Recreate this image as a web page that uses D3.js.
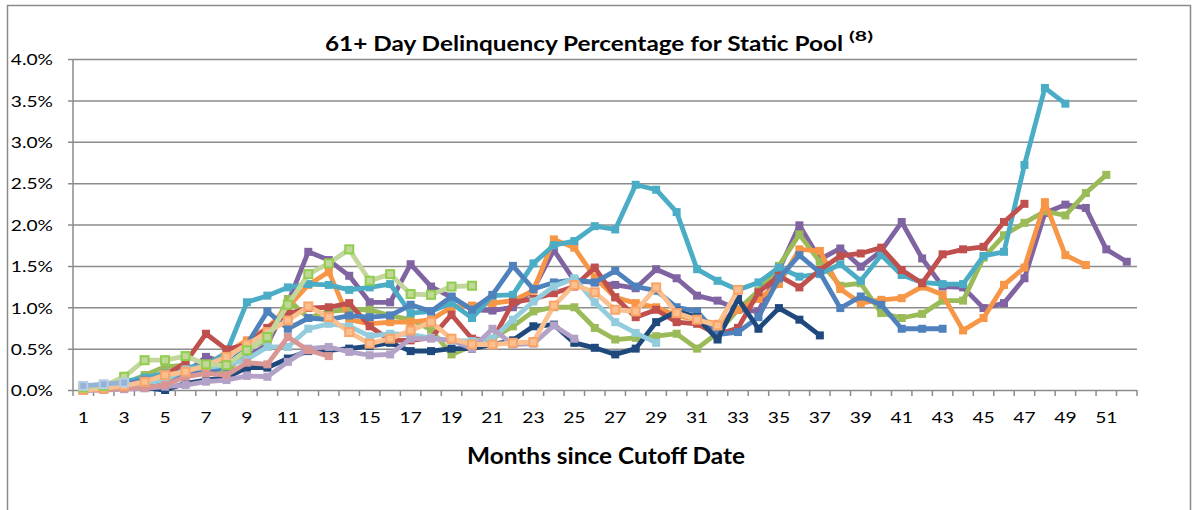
<!DOCTYPE html>
<html>
<head>
<meta charset="utf-8">
<script src="https://cdn.jsdelivr.net/npm/d3@7"></script>
<style>
  html, body { margin: 0; padding: 0; background: #fff; }
  svg { display: block; }
  text { font-family: Lato, "Open Sans", sans-serif; fill: #000; }
</style>
</head>
<body>
<script>
// ---------- DATA ----------
const months = [1,2,3,4,5,6,7,8,9,10,11,12,13,14,15,16,17,18,19,20,21,22,23,24,25,26,
  27,28,29,30,31,32,33,34,35,36,37,38,39,40,41,42,43,44,45,46,47,48,49,50,51,52];
const xTickLabels = [1,3,5,7,9,11,13,15,17,19,21,23,25,27,29,31,33,35,37,39,41,43,45,47,49,51];
const yTicks = [0,0.5,1.0,1.5,2.0,2.5,3.0,3.5,4.0];

const purplePool = [0.0,0.02,0.04,0.07,0.12,0.2,0.4,0.33,0.4,0.55,1.05,1.67,1.57,1.38,1.06,1.06,1.52,1.25,1.12,0.97,
  0.96,1.0,1.22,1.69,1.32,1.3,1.27,1.23,1.46,1.35,1.14,1.08,0.97,0.95,1.45,1.99,1.58,1.71,1.49,1.68,
  2.03,1.59,1.25,1.24,0.99,1.05,1.35,2.14,2.24,2.2,1.7,1.55];
const greenPool = [0.0,0.03,0.08,0.18,0.28,0.3,0.2,0.2,0.5,0.6,1.1,0.87,0.95,0.97,0.97,0.9,0.85,0.73,0.43,0.53,
  0.62,0.77,0.95,1.0,1.0,0.75,0.61,0.63,0.65,0.68,0.5,0.69,0.97,1.2,1.5,1.88,1.55,1.26,1.29,0.93,
  0.87,0.92,1.08,1.08,1.6,1.87,2.02,2.16,2.11,2.38,2.6];
const orangePool = [0.0,0.02,0.05,0.1,0.2,0.25,0.3,0.45,0.6,0.75,1.0,1.27,1.43,0.85,0.8,0.82,0.82,0.85,1.0,1.02,
  1.05,1.08,1.2,1.82,1.72,1.36,1.12,1.05,1.0,0.9,0.85,0.8,0.97,1.1,1.28,1.7,1.68,1.22,1.05,1.09,
  1.11,1.25,1.15,0.72,0.87,1.27,1.48,2.27,1.63,1.51];
const aquaPool = [0.03,0.05,0.1,0.15,0.2,0.27,0.3,0.45,1.06,1.14,1.24,1.28,1.27,1.21,1.24,1.28,0.93,0.95,1.05,0.87,
  1.14,1.15,1.53,1.75,1.8,1.98,1.94,2.48,2.42,2.15,1.46,1.32,1.21,1.3,1.48,1.37,1.4,1.52,1.32,1.63,
  1.39,1.3,1.28,1.28,1.62,1.67,2.72,3.65,3.46];
const redPool = [0.0,0.02,0.05,0.1,0.18,0.33,0.68,0.49,0.55,0.75,0.92,0.99,1.0,1.05,0.77,0.6,0.6,0.63,0.91,0.62,
  0.6,1.06,1.1,1.17,1.25,1.48,1.12,0.88,0.97,0.82,0.8,0.67,0.75,1.18,1.38,1.24,1.45,1.62,1.65,1.72,
  1.45,1.29,1.64,1.7,1.73,2.03,2.25];
const bluePool = [0.0,0.03,0.07,0.12,0.15,0.2,0.22,0.28,0.55,0.95,0.74,0.87,0.85,0.9,0.88,0.9,1.03,0.95,1.13,0.97,
  1.15,1.5,1.22,1.3,1.33,1.3,1.44,1.25,1.2,1.0,0.95,0.67,0.7,0.88,1.35,1.63,1.42,0.99,1.13,1.03,
  0.74,0.74,0.74];
const navyPool = [0.0,0.01,0.02,0.03,0.0,0.08,0.12,0.15,0.27,0.27,0.38,0.47,0.48,0.5,0.53,0.57,0.47,0.47,0.5,0.5,
  0.55,0.6,0.77,0.79,0.57,0.51,0.43,0.5,0.82,0.95,0.88,0.61,1.1,0.74,0.99,0.85,0.66];
const lightBluePool = [0.0,0.02,0.05,0.08,0.12,0.25,0.27,0.3,0.37,0.52,0.52,0.74,0.8,0.77,0.65,0.68,0.67,0.63,0.6,0.59,
  0.62,0.85,1.07,1.25,1.35,1.06,0.82,0.69,0.57];
const lightPurplePool = [0.0,0.0,0.01,0.02,0.04,0.06,0.1,0.12,0.17,0.16,0.34,0.5,0.52,0.46,0.42,0.43,0.62,0.62,0.6,0.5,
  0.74,0.55,0.56,0.78,0.62];
const pinkPool = [0.0,0.0,0.02,0.03,0.06,0.16,0.2,0.18,0.33,0.31,0.64,0.48,0.41];
const lightOrangePool = [0.0,0.02,0.05,0.1,0.18,0.22,0.3,0.4,0.55,0.7,0.84,1.01,0.88,0.7,0.56,0.62,0.72,0.82,0.62,0.55,
  0.55,0.57,0.58,1.02,1.27,1.18,0.97,0.95,1.24,0.93,0.85,0.78,1.21];
const lightGreenPool = [0.03,0.05,0.16,0.36,0.36,0.41,0.31,0.3,0.48,0.64,1.03,1.4,1.53,1.7,1.32,1.4,1.16,1.15,1.25,1.26];
const steelBluePool = [0.05,0.07,0.09];

// series table (drawing order: later on top)
const series = [
  { values: purplePool,      line: "#8064A2", fill: "#8064A2", stroke: "#8064A2" },
  { values: greenPool,       line: "#9BBB59", fill: "#9BBB59", stroke: "#9BBB59" },
  { values: orangePool,      line: "#F79646", fill: "#F79646", stroke: "#F79646" },
  { values: aquaPool,        line: "#4BACC6", fill: "#4BACC6", stroke: "#4BACC6" },
  { values: redPool,         line: "#C0504D", fill: "#C0504D", stroke: "#C0504D" },
  { values: bluePool,        line: "#4F81BD", fill: "#4F81BD", stroke: "#4F81BD" },
  { values: navyPool,        line: "#1F497D", fill: "#1F497D", stroke: "#1F497D" },
  { values: lightBluePool,   line: "#93CDDD", fill: "#93CDDD", stroke: "#93CDDD" },
  { values: lightPurplePool, line: "#B3A2C7", fill: "#B3A2C7", stroke: "#B3A2C7" },
  { values: pinkPool,        line: "#D99694", fill: "#D99694", stroke: "#D99694" },
  { values: lightOrangePool, line: "#FAC090", fill: "#FAC090", stroke: "#F8A46A" },
  { values: lightGreenPool,  line: "#C3D69B", fill: "#C3D69B", stroke: "#8ECF4C" },
  { values: steelBluePool,   line: "#95B3D7", fill: "#95B3D7", stroke: "#B9CDE5" }
];

// ---------- LAYOUT ----------
const W = 1199, H = 510;
const plot = { left: 73, right: 1137, top: 59, bottom: 390 };
const textStretch = 1.2; // reference text is horizontally wide

const svg = d3.select("body").append("svg").attr("width", W).attr("height", H);

function stretch(sel, factor) {
  sel.each(function () {
    const len = this.getComputedTextLength();
    d3.select(this).attr("textLength", len * factor).attr("lengthAdjust", "spacingAndGlyphs");
  });
}

// outer chart border
svg.append("rect")
  .attr("x", 7.5).attr("y", 5.5)
  .attr("width", 1183).attr("height", 530)
  .attr("fill", "#fff").attr("stroke", "#8a8a8a").attr("stroke-width", 1.5);

const x = d3.scaleBand().domain(months).range([plot.left, plot.right]);
const y = d3.scaleLinear().domain([0, 4]).range([plot.bottom, plot.top]);
const cx = m => x(m) + x.bandwidth() / 2;

// gridlines + y axis labels
const yAxis = d3.axisLeft(y)
  .tickValues(yTicks)
  .tickSizeInner(-(plot.right - plot.left))
  .tickSizeOuter(0)
  .tickFormat(d => d.toFixed(1) + "%");
const gy = svg.append("g").attr("transform", `translate(${plot.left},0)`).call(yAxis);
gy.select(".domain").remove();
gy.selectAll(".tick line").attr("x1", -5).attr("stroke", "#8c8c8c").attr("stroke-width", 1.5);
gy.selectAll(".tick text")
  .attr("x", 53 - plot.left)
  .attr("dy", "0.36em")
  .attr("text-anchor", "end")
  .style("font-size", "16px")
  .style("font-family", "Lato, sans-serif")
  .attr("fill", "#000")
  .call(stretch, textStretch);

// y axis line
svg.append("line")
  .attr("x1", plot.left).attr("x2", plot.left)
  .attr("y1", plot.top).attr("y2", plot.bottom + 0.5)
  .attr("stroke", "#8c8c8c").attr("stroke-width", 1.5);

// x axis ticks at category boundaries
const boundaries = months.map(m => x(m)).concat([x(months[months.length - 1]) + x.bandwidth()]);
svg.append("g").selectAll("line").data(boundaries).join("line")
  .attr("x1", d => d).attr("x2", d => d)
  .attr("y1", plot.bottom).attr("y2", plot.bottom + 6)
  .attr("stroke", "#8c8c8c").attr("stroke-width", 1.5);

// x axis labels (odd months)
const xAxis = d3.axisBottom(x).tickValues(xTickLabels).tickSize(0).tickPadding(22);
const gx = svg.append("g").attr("transform", `translate(0,${plot.bottom})`).call(xAxis);
gx.select(".domain").remove();
gx.selectAll(".tick text")
  .style("font-size", "16px")
  .style("font-family", "Lato, sans-serif")
  .attr("fill", "#000")
  .call(stretch, textStretch);

// ---------- SERIES ----------
const line = d3.line()
  .x((d, i) => cx(months[i]))
  .y(d => y(d));

const gs = svg.append("g");
series.forEach(s => {
  const g = gs.append("g");
  g.append("path")
    .datum(s.values)
    .attr("d", line)
    .attr("fill", "none")
    .attr("stroke", s.line)
    .attr("stroke-width", 4.8)
    .attr("stroke-linejoin", "round");
  const ms = 8;
  g.selectAll("rect").data(s.values).join("rect")
    .attr("x", (d, i) => cx(months[i]) - ms / 2)
    .attr("y", d => y(d) - ms / 2)
    .attr("width", ms).attr("height", ms)
    .attr("fill", s.fill)
    .attr("stroke", s.stroke)
    .attr("stroke-width", s.stroke === s.fill ? 0 : 2);
});

// ---------- TITLES ----------
svg.append("text")
  .attr("x", 325).attr("y", 51)
  .attr("textLength", 518).attr("lengthAdjust", "spacingAndGlyphs")
  .style("font-size", "21px").style("font-weight", "bold")
  .text("61+ Day Delinquency Percentage for Static Pool");
svg.append("text")
  .attr("x", 849).attr("y", 41)
  .attr("textLength", 24).attr("lengthAdjust", "spacingAndGlyphs")
  .style("font-size", "13px").style("font-weight", "bold")
  .text("(8)");

svg.append("text")
  .attr("x", 467).attr("y", 464)
  .attr("textLength", 278).attr("lengthAdjust", "spacingAndGlyphs")
  .style("font-size", "23px").style("font-weight", "bold")
  .text("Months since Cutoff Date");
</script>
</body>
</html>
